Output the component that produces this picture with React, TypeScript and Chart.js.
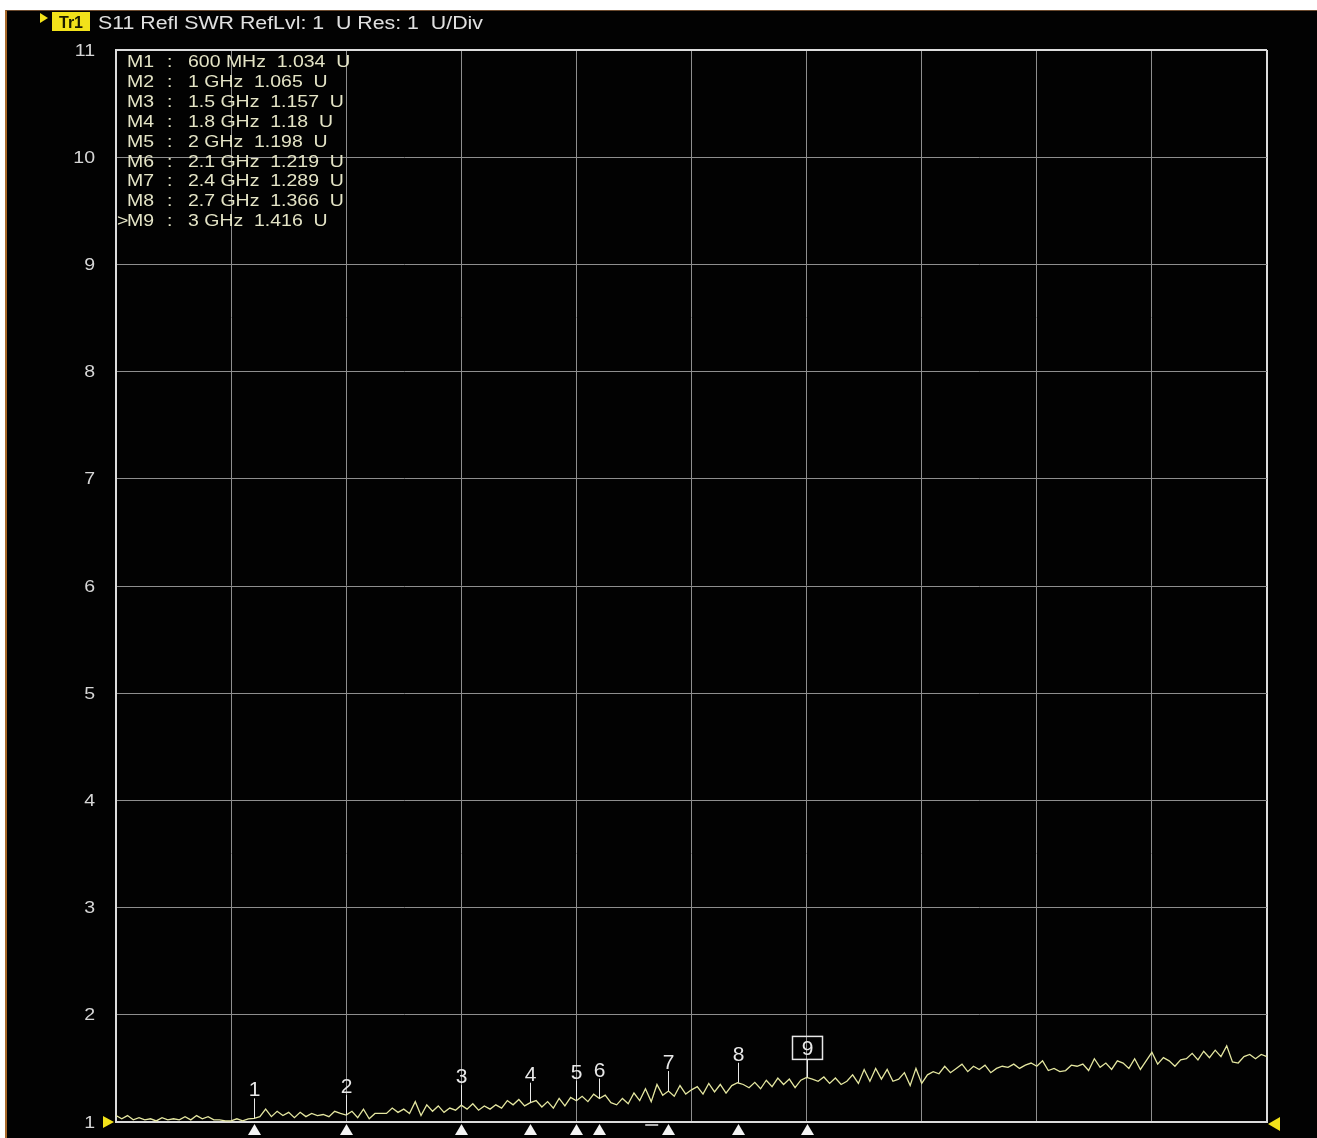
import React, { useEffect, useRef } from "react";
import { Chart, registerables } from "chart.js";

Chart.register(...registerables);

// ---- sweep / axis definition ----
const START_GHZ = 0;
const STOP_GHZ = 5;
const X_STEP_GHZ = 0.5;
const Y_MIN = 1;
const Y_MAX = 11;
const Y_STEP = 1;
const REF_LEVEL = 1;

const traceName = "Tr1";
const titleText = "S11 Refl SWR RefLvl: 1  U Res: 1  U/Div";

// ---- measured SWR trace (201 points, 0 .. 5 GHz) ----
const swrTrace = [
  1.06, 1.03, 1.06, 1.02, 1.04, 1.02, 1.03, 1.01, 1.04, 1.02,
  1.03, 1.02, 1.05, 1.02, 1.06, 1.03, 1.05, 1.02, 1.02, 1.01,
  1.01, 1.03, 1.01, 1.03, 1.034, 1.05, 1.12, 1.05, 1.10, 1.06,
  1.09, 1.04, 1.09, 1.05, 1.08, 1.06, 1.07, 1.05, 1.10, 1.08,
  1.065, 1.10, 1.04, 1.12, 1.03, 1.08, 1.08, 1.08, 1.13, 1.09,
  1.12, 1.08, 1.19, 1.06, 1.16, 1.10, 1.15, 1.09, 1.13, 1.11,
  1.157, 1.12, 1.17, 1.11, 1.15, 1.12, 1.16, 1.13, 1.20, 1.16,
  1.21, 1.15, 1.18, 1.20, 1.14, 1.19, 1.13, 1.22, 1.15, 1.23,
  1.198, 1.24, 1.19, 1.26, 1.219, 1.25, 1.18, 1.16, 1.22, 1.17,
  1.27, 1.20, 1.31, 1.19, 1.35, 1.25, 1.289, 1.24, 1.34, 1.26,
  1.30, 1.33, 1.26, 1.36, 1.28, 1.35, 1.27, 1.34, 1.366, 1.35,
  1.32, 1.37, 1.31, 1.39, 1.33, 1.41, 1.35, 1.40, 1.32, 1.39,
  1.416, 1.40, 1.38, 1.42, 1.36, 1.41, 1.35, 1.38, 1.44, 1.36,
  1.49, 1.38, 1.50, 1.40, 1.49, 1.38, 1.40, 1.46, 1.34, 1.50,
  1.36, 1.44, 1.47, 1.45, 1.52, 1.46, 1.50, 1.54, 1.47, 1.52,
  1.49, 1.53, 1.46, 1.50, 1.52, 1.51, 1.54, 1.50, 1.53, 1.55,
  1.52, 1.57, 1.48, 1.50, 1.47, 1.48, 1.53, 1.52, 1.54, 1.48,
  1.59, 1.51, 1.55, 1.49, 1.57, 1.55, 1.50, 1.59, 1.49, 1.57,
  1.65, 1.54, 1.60, 1.57, 1.52, 1.58, 1.59, 1.64, 1.58, 1.66,
  1.60, 1.67, 1.61, 1.71, 1.56, 1.55, 1.61, 1.63, 1.59, 1.63,
  1.61,
];

// ---- markers ----
const markerNames = ["M1", "M2", "M3", "M4", "M5", "M6", "M7", "M8", "M9"];
const markerFreqGHz = [0.6, 1, 1.5, 1.8, 2, 2.1, 2.4, 2.7, 3];
const markerSwr = [1.034, 1.065, 1.157, 1.18, 1.198, 1.219, 1.289, 1.366, 1.416];
const activeMarker = 8;
const sweepDashGHz = 2.325;

const FONT = '"Liberation Sans", Arial, sans-serif';
const GRID = "#8e8e8e";
const FRAME = "#dcdcdc";
const TRACE = "rgb(228,230,160)";
const TABLE_TXT = "#e4e4c6";
const TXT = "#e0e0e0";

function freqText(f: number) {
  return f < 1 ? `${Math.round(f * 1000)} MHz` : `${f} GHz`;
}

function scaledText(ctx: CanvasRenderingContext2D, t: string, x: number, y: number, sx: number) {
  ctx.save();
  ctx.translate(x, y);
  ctx.scale(sx, 1);
  ctx.fillText(t, 0, 0);
  ctx.restore();
}

const overlayPlugin = {
  id: "vnaOverlay",
  afterDatasetsDraw(chart: any) {
    const ctx: CanvasRenderingContext2D = chart.ctx;
    const xs = chart.scales.x;
    const ys = chart.scales.y;
    const area = chart.chartArea;
    ctx.save();

    // y tick labels (from the scale's ticks)
    ctx.fillStyle = "#d6d6d6";
    ctx.font = `17px ${FONT}`;
    ctx.textBaseline = "middle";
    ctx.textAlign = "left";
    ys.ticks.forEach((t: any) => {
      const py = ys.getPixelForValue(t.value);
      const label = String(t.value);
      const w = ctx.measureText(label).width * 1.15;
      scaledText(ctx, label, area.left - 21 - w, py + 1, 1.15);
    });
    ctx.textBaseline = "alphabetic";

    // markers on trace
    ctx.lineWidth = 1;
    ctx.strokeStyle = "#e8e8e8";
    ctx.fillStyle = "#e8e8e8";
    ctx.font = `21px ${FONT}`;
    ctx.textAlign = "center";
    markerFreqGHz.forEach((f, i) => {
      const px = Math.round(xs.getPixelForValue(f)) + 0.5;
      const py = ys.getPixelForValue(markerSwr[i]);
      const active = i === activeMarker;
      ctx.beginPath();
      ctx.moveTo(px, py);
      ctx.lineTo(px, py - (active ? 18 : 20));
      ctx.stroke();
      ctx.fillText(String(i + 1), px, py - 22);
      if (active) {
        ctx.lineWidth = 1.5;
        ctx.strokeRect(px - 15, py - 41, 30, 23);
        ctx.lineWidth = 1;
      }
      // triangle below axis
      ctx.beginPath();
      ctx.moveTo(px, area.bottom + 2);
      ctx.lineTo(px + 6.5, area.bottom + 13);
      ctx.lineTo(px - 6.5, area.bottom + 13);
      ctx.closePath();
      ctx.fillStyle = "#f4f4f4";
      ctx.fill();
      ctx.fillStyle = "#e8e8e8";
    });

    // small sweep dash under the axis
    const dx = xs.getPixelForValue(sweepDashGHz);
    ctx.fillStyle = "#b0b0b0";
    ctx.fillRect(dx - 6, area.bottom + 2, 13, 2);

    // reference level / stop triangles
    const refY = ys.getPixelForValue(REF_LEVEL);
    ctx.fillStyle = "#f2e21a";
    ctx.beginPath();
    ctx.moveTo(area.left - 2, refY);
    ctx.lineTo(area.left - 13, refY - 6);
    ctx.lineTo(area.left - 13, refY + 6);
    ctx.closePath();
    ctx.fill();
    ctx.beginPath();
    ctx.moveTo(area.right + 1, refY + 2);
    ctx.lineTo(area.right + 13, refY - 5);
    ctx.lineTo(area.right + 13, refY + 9);
    ctx.closePath();
    ctx.fill();

    // marker table
    ctx.textAlign = "left";
    ctx.fillStyle = TABLE_TXT;
    ctx.font = `16.5px ${FONT}`;
    const sx = 1.18;
    markerNames.forEach((name, i) => {
      const base = area.top + 17 + 19.9 * i;
      if (i === activeMarker) scaledText(ctx, ">", area.left + 1, base, sx);
      scaledText(ctx, name, area.left + 11, base, sx);
      scaledText(ctx, ":", area.left + 51, base, sx);
      scaledText(ctx, `${freqText(markerFreqGHz[i])}  ${markerSwr[i]}  U`, area.left + 72, base, sx);
    });

    // title bar
    ctx.fillStyle = "#f2e21a";
    ctx.beginPath();
    ctx.moveTo(40, 13);
    ctx.lineTo(48, 18);
    ctx.lineTo(40, 23);
    ctx.closePath();
    ctx.fill();
    ctx.fillRect(52, 12, 38, 19);
    ctx.fillStyle = "#1a1a00";
    ctx.font = `bold 16px ${FONT}`;
    ctx.textAlign = "center";
    ctx.fillText(traceName, 71, 28);
    ctx.textAlign = "left";
    ctx.fillStyle = TXT;
    ctx.font = `17.5px ${FONT}`;
    const w = ctx.measureText(titleText).width;
    scaledText(ctx, titleText, 98, 29, 385 / w);

    ctx.restore();
  },
};

export default function App() {
  const ref = useRef<HTMLCanvasElement>(null);

  useEffect(() => {
    if (!ref.current) return;
    const n = swrTrace.length;
    const pts = swrTrace.map((v, i) => ({
      x: START_GHZ + ((STOP_GHZ - START_GHZ) * i) / (n - 1),
      y: v,
    }));
    const chart = new Chart(ref.current, {
      type: "line",
      data: {
        datasets: [
          {
            label: traceName,
            data: pts,
            borderColor: TRACE,
            borderWidth: 1.3,
            pointRadius: 0,
            tension: 0,
            fill: false,
          },
        ],
      },
      options: {
        animation: false,
        responsive: true,
        maintainAspectRatio: false,
        layout: { padding: { left: 0, right: 50, top: 50, bottom: 0 } },
        plugins: { legend: { display: false }, tooltip: { enabled: false } },
        scales: {
          x: {
            type: "linear",
            min: START_GHZ,
            max: STOP_GHZ,
            ticks: { display: false, stepSize: X_STEP_GHZ },
            grid: {
              drawTicks: false,
              color: (c: any) => (c.tick && (c.tick.value === START_GHZ || c.tick.value === STOP_GHZ) ? FRAME : GRID),
              lineWidth: (c: any) => (c.tick && (c.tick.value === START_GHZ || c.tick.value === STOP_GHZ) ? 2 : 1),
            },
            border: { color: FRAME, width: 2 },
            afterFit: (s: any) => {
              s.height = 16;
            },
          },
          y: {
            min: Y_MIN,
            max: Y_MAX,
            ticks: { stepSize: Y_STEP, display: false },
            grid: {
              drawTicks: false,
              color: (c: any) => (c.tick && (c.tick.value === Y_MIN || c.tick.value === Y_MAX) ? FRAME : GRID),
              lineWidth: (c: any) => (c.tick && (c.tick.value === Y_MIN || c.tick.value === Y_MAX) ? 2 : 1),
            },
            border: { color: FRAME, width: 2 },
            afterFit: (s: any) => {
              s.width = 116;
            },
          },
        },
      },
      plugins: [overlayPlugin],
    });
    return () => chart.destroy();
  }, []);

  return (
    <div style={{ position: "absolute", left: 0, top: 0, width: 1317, height: 1138, background: "#ffffff", overflow: "hidden" }}>
      <div
        style={{
          position: "absolute",
          left: 5,
          top: 10,
          right: 0,
          bottom: 0,
          background: "#020202",
          borderLeft: "2px solid #a8692a",
          borderTop: "1px solid #6b4a2e",
        }}
      />
      <div style={{ position: "absolute", left: 0, top: 0, width: 1317, height: 1138 }}>
        <canvas ref={ref} />
      </div>
    </div>
  );
}
